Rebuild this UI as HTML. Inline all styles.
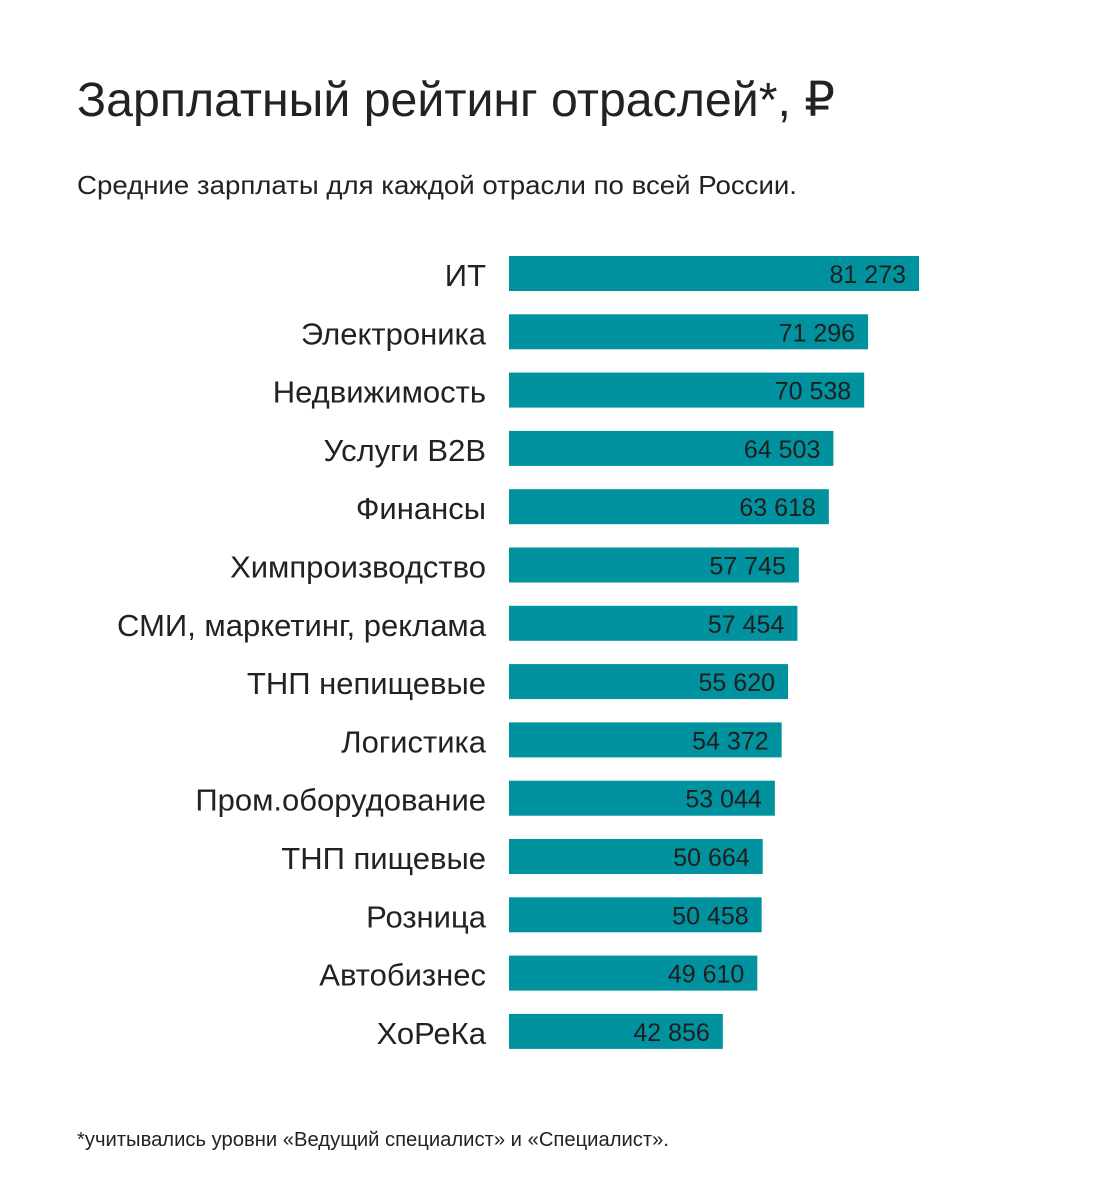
<!DOCTYPE html>
<html><head><meta charset="utf-8"><style>
html,body{margin:0;padding:0;background:#fff}
svg{display:block;font-family:"Liberation Sans","DejaVu Sans",sans-serif}
</style></head><body>
<svg id="chart" width="1100" height="1200" viewBox="0 0 1100 1200">
<text x="77" y="116" font-size="48" fill="#222" textLength="758" lengthAdjust="spacingAndGlyphs">Зарплатный рейтинг отраслей*, ₽</text>
<text x="77" y="194" font-size="26" fill="#222" textLength="720" lengthAdjust="spacingAndGlyphs">Средние зарплаты для каждой отрасли по всей России.</text>
<g id="bars"></g>
<text x="77" y="1146" font-size="20" fill="#222" textLength="592" lengthAdjust="spacingAndGlyphs">*учитывались уровни «Ведущий специалист» и «Специалист».</text>
</svg>
<script>
const categories = ["ИТ","Электроника","Недвижимость","Услуги B2B","Финансы","Химпроизводство","СМИ, маркетинг, реклама","ТНП непищевые","Логистика","Пром.оборудование","ТНП пищевые","Розница","Автобизнес","ХоРеКа"];
const values = [81273,71296,70538,64503,63618,57745,57454,55620,54372,53044,50664,50458,49610,42856];
const valueLabels = ["81 273","71 296","70 538","64 503","63 618","57 745","57 454","55 620","54 372","53 044","50 664","50 458","49 610","42 856"];

const NS = "http://www.w3.org/2000/svg";
const g = document.getElementById("bars");
const x0 = 509, zeroPx = 504, xMaxPx = 919, vMax = 81273;
function xScale(v){ return zeroPx + (v / vMax) * (xMaxPx - zeroPx); }
const top0 = 256, step = 58.3, barH = 35;
function yScale(i){ return top0 + i * step; }
categories.forEach((c, i) => {
  const y = yScale(i);
  const r = document.createElementNS(NS, "rect");
  
  
  r.setAttribute("x", x0); r.setAttribute("y", y);
  r.setAttribute("width", xScale(values[i]) - x0); r.setAttribute("height", barH);
  r.setAttribute("fill", "#00929e");
  g.appendChild(r);
  const lab = document.createElementNS(NS, "text");
  
  
  lab.setAttribute("x", 486); lab.setAttribute("y", y + 30);
  lab.setAttribute("text-anchor", "end"); lab.setAttribute("font-size", "31");
  lab.setAttribute("fill", "#222");
  lab.textContent = c;
  g.appendChild(lab);
  const val = document.createElementNS(NS, "text");
  
  
  val.setAttribute("x", xScale(values[i]) - 13); val.setAttribute("y", y + 27);
  val.setAttribute("text-anchor", "end"); val.setAttribute("font-size", "25");
  val.setAttribute("fill", "#1e1e1e");
  val.textContent = valueLabels[i];
  g.appendChild(val);
});
</script>
</body></html>
